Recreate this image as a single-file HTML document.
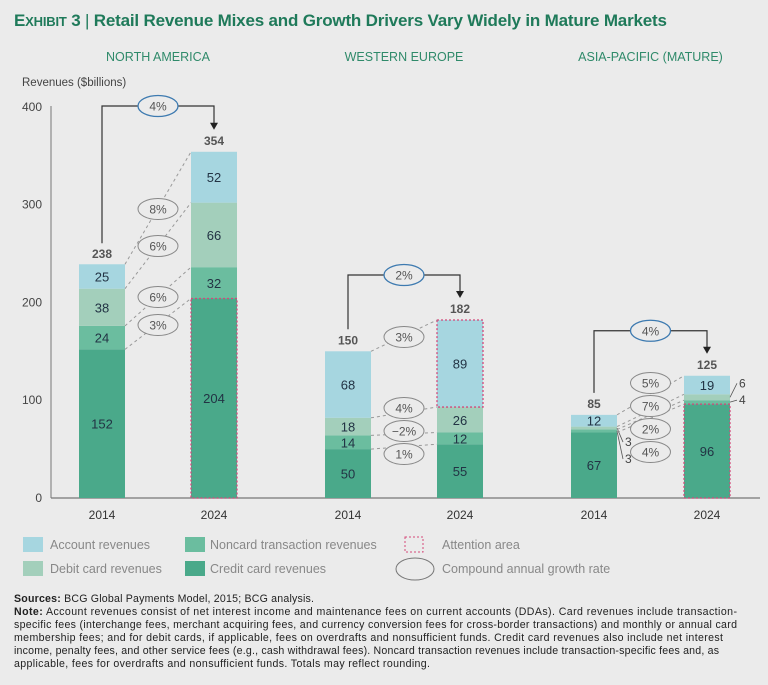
<!DOCTYPE html>
<html><head><meta charset="utf-8"><style>
body{margin:0;background:#ebebeb;font-family:"Liberation Sans",sans-serif;}
svg{display:block}
</style></head><body>
<svg id="c" width="768" height="685" xmlns="http://www.w3.org/2000/svg">
<rect width="768" height="685" fill="#ebebeb"/>
<text x="14" y="26" font-size="17" font-weight="bold" fill="#1f7a5a" textLength="653">E<tspan font-size="13">XHIBIT</tspan> 3 <tspan font-weight="normal">|</tspan> Retail Revenue Mixes and Growth Drivers Vary Widely in Mature Markets</text>
<text x="22" y="86" font-size="11.5" fill="#444">Revenues ($billions)</text>
<line x1="51" y1="106" x2="51" y2="498" stroke="#777" stroke-width="1"/>
<line x1="51" y1="498" x2="760" y2="498" stroke="#777" stroke-width="1.2"/>
<g id="plot"></g>
<g font-size="12.5" fill="#888">
<rect x="23" y="537" width="20" height="15" fill="#a6d6e0"/>
<text x="50" y="549">Account revenues</text>
<rect x="23" y="561" width="20" height="15" fill="#a3cfbb"/>
<text x="50" y="573">Debit card revenues</text>
<rect x="185" y="537" width="20" height="15" fill="#6bbd9f"/>
<text x="210" y="549">Noncard transaction revenues</text>
<rect x="185" y="561" width="20" height="15" fill="#4aa98a"/>
<text x="210" y="573">Credit card revenues</text>
<rect x="405" y="537" width="18" height="15" fill="none" stroke="#d4487a" stroke-dasharray="2,2"/>
<text x="442" y="549">Attention area</text>
<ellipse cx="415" cy="569" rx="19" ry="11" fill="none" stroke="#777"/>
<text x="442" y="573">Compound annual growth rate</text>
</g>
<g font-size="10.6" fill="#222">
<text x="14" y="602" textLength="300"><tspan font-weight="bold">Sources:</tspan> BCG Global Payments Model, 2015; BCG analysis.</text>
<text x="14" y="615" textLength="723"><tspan font-weight="bold">Note:</tspan> Account revenues consist of net interest income and maintenance fees on current accounts (DDAs). Card revenues include transaction-</text>
<text x="14" y="628" textLength="723">specific fees (interchange fees, merchant acquiring fees, and currency conversion fees for cross-border transactions) and monthly or annual card</text>
<text x="14" y="641" textLength="709">membership fees; and for debit cards, if applicable, fees on overdrafts and nonsufficient funds. Credit card revenues also include net interest</text>
<text x="14" y="654" textLength="705">income, penalty fees, and other service fees (e.g., cash withdrawal fees). Noncard transaction revenues include transaction-specific fees and, as</text>
<text x="14" y="667" textLength="416">applicable, fees for overdrafts and nonsufficient funds. Totals may reflect rounding.</text>
</g>
</svg>
<script>
const regions=["NORTH AMERICA","WESTERN EUROPE","ASIA-PACIFIC (MATURE)"];
const years=["2014","2024"];
const credit=[[152,204],[50,55],[67,96]];
const noncard=[[24,32],[14,12],[3,4]];
const debit=[[38,66],[18,26],[3,6]];
const account=[[25,52],[68,89],[12,19]];
const totals=[[238,354],[150,182],[85,125]];
const cagrTotal=["4%","2%","4%"];
const cagrSeg=[["3%","6%","6%","8%"],["1%","\u22122%","4%","3%"],["4%","2%","7%","5%"]];
const attention=[[0],[3],[0]];
const yTicks=[0,100,200,300,400];
const NS="http://www.w3.org/2000/svg";
const g=document.getElementById('plot');
const y=v=>498-v*0.978;
const cx=[[102,214],[348,460],[594,707]];
const W=46;
const colors=["#4aa98a","#6bbd9f","#a3cfbb","#a6d6e0"];
const segNames=["credit","noncard","debit","account"];
function mk(t,a,p){const e=document.createElementNS(NS,t);for(const k in a)e.setAttribute(k,a[k]);(p||g).appendChild(e);return e;}
yTicks.forEach(v=>{const t=mk('text',{x:42,y:y(v)+4,'text-anchor':'end','font-size':12,fill:'#444'});t.textContent=v;

});
regions.forEach((r,ri)=>{
 const mid=(cx[ri][0]+cx[ri][1])/2;
 const rt=mk('text',{x:mid,y:61,'text-anchor':'middle','font-size':12.5,fill:'#2f8a6a'});rt.textContent=r;
 
 
 const series=[credit[ri],noncard[ri],debit[ri],account[ri]];
 const bounds=[[],[]];
 years.forEach((yr,yi)=>{
  let acc=0;const x=cx[ri][yi];
  bounds[yi].push(0);
  series.forEach((s,si)=>{
   const v=s[yi];
   const rc=mk('rect',{x:x-W/2,y:y(acc+v),width:W,height:v*0.978,fill:colors[si]});
   
   
   if(v>=10){const t=mk('text',{x:x,y:y(acc+v/2)+5,'text-anchor':'middle','font-size':13,fill:'#234'});t.textContent=v;
    
    }
   acc+=v;bounds[yi].push(acc);
  });
  const tt=mk('text',{x:x,y:y(totals[ri][yi])-7,'text-anchor':'middle','font-size':12,'font-weight':'bold',fill:'#555'});tt.textContent=totals[ri][yi];
  
  
  const yl=mk('text',{x:x,y:519,'text-anchor':'middle','font-size':12,fill:'#333'});yl.textContent=yr;
  
  
 });
 series.forEach((s,si)=>{years.forEach((yr,yi)=>{const v=s[yi];if(v<10){
   const x=cx[ri][yi];const yy=y(bounds[yi][si]+v/2);
   const lx=yi==0?x+W/2+8:x+W/2+9;const ly=yi==0?yy+10+(si==1?22:8):yy+(si==2?-10:2);
   mk('line',{x1:x+W/2,y1:yy,x2:lx-2,y2:ly-4,stroke:'#555','stroke-width':0.8});
   const t=mk('text',{x:lx,y:ly,'font-size':12,fill:'#444'});t.textContent=v;
   
   }});});
 attention[ri].forEach(si=>{const x=cx[ri][1];
  const a=mk('rect',{x:x-W/2,y:y(bounds[1][si+1]),width:W,height:series[si][1]*0.978,fill:'none',stroke:'#d4487a','stroke-width':1.3,'stroke-dasharray':'2,2'});
  
  });
 for(let si=0;si<4;si++){
  const y0=y(bounds[0][si+1]),y1=y(bounds[1][si+1]);
  const ln=mk('line',{x1:cx[ri][0]+W/2,y1:y0,x2:cx[ri][1]-W/2,y2:y1,stroke:'#999','stroke-dasharray':'3,3','stroke-width':1});
  
  
 }
 const ey=[[325,297,246,209],[454,431,408,337],[452,429,406,383]][ri];
 for(let si=0;si<4;si++){
  const e=mk('ellipse',{cx:mid,cy:ey[si],rx:20,ry:10.5,fill:'#ebebeb',stroke:'#888','stroke-width':1});
  
  
  const t=mk('text',{x:mid,y:ey[si]+4.5,'text-anchor':'middle','font-size':12,fill:'#555'});t.textContent=cagrSeg[ri][si];
  
  
 }
 const x0=cx[ri][0],x1=cx[ri][1];
 const by=y(Math.max(totals[ri][0],totals[ri][1]))-45;
 const byy=ri==0?106:by;
 const p=mk('path',{d:`M${x0} ${y(totals[ri][0])-22}V${byy}H${x1}V${y(totals[ri][1])-25}`,fill:'none',stroke:'#333','stroke-width':1.2});
 
 
 const ar=mk('path',{d:`M${x1-4} ${y(totals[ri][1])-29}L${x1+4} ${y(totals[ri][1])-29}L${x1} ${y(totals[ri][1])-22}Z`,fill:'#222'});
 
 
 const e=mk('ellipse',{cx:mid,cy:byy,rx:20,ry:10.5,fill:'#ebebeb',stroke:'#3d7ab0','stroke-width':1.3});
 
 
 const t=mk('text',{x:mid,y:byy+4.5,'text-anchor':'middle','font-size':12,fill:'#555'});t.textContent=cagrTotal[ri];
 
 
});
</script>
</body></html>
